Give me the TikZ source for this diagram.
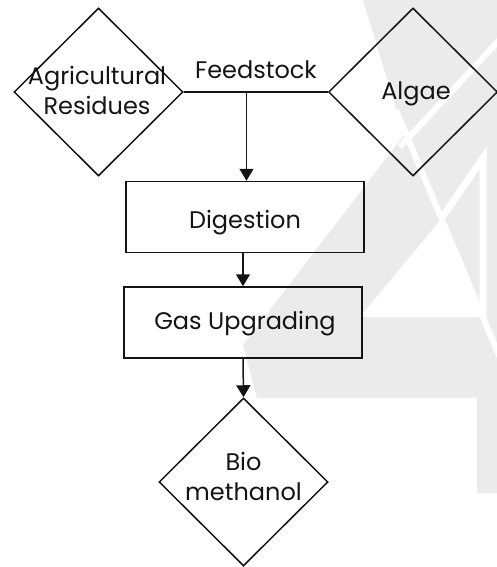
\documentclass[tikz,border=0pt]{standalone}
\usepackage{fontspec}
\setmainfont{Poppins}
\usetikzlibrary{shapes.geometric,arrows.meta}
\definecolor{wm}{RGB}{235,235,235}
\definecolor{ink}{RGB}{20,20,20}
\begin{document}
\begin{tikzpicture}[x=1pt,y=-1pt,
  diam/.style={draw=ink, diamond, line width=1.5pt, minimum width=169pt, minimum height=168pt, inner sep=0pt},
  procbox/.style={draw=ink, rectangle, line width=1.5pt, minimum width=238pt, minimum height=71pt, inner sep=0pt},
  txt/.style={font=\fontsize{24}{30}\selectfont, text=ink, align=center, inner sep=0pt},
  arr/.style={draw=ink, line width=1.5pt, -{Triangle[width=14pt,length=12pt]}},
  conn/.style={draw=ink, line width=1.5pt}
]
\useasboundingbox (0,0) rectangle (497,567);
% watermark
\fill[wm] (363,0) -- (497,0) -- (497,493) -- (477,493) -- (477,398) -- (257,398) -- (243,345) -- (404,135) -- cycle;
\fill[white] (443,217) -- (360,317) -- (481,317) -- cycle;
\draw[white, line width=6pt] (503,36) -- (400,147);
\draw[white, line width=6pt] (396,110) -- (505,370);
\draw[white, line width=7pt] (443,216) -- (483,158) -- (483,317);
% nodes
\node[diam] (agri) at (98.5,92) {};
\node[txt] (agrit) at (97,90) {Agricultural\\Residues};
\node[diam] (alg) at (413,92) {};
\node[txt] (algt) at (416,94) {Algae};
\node[txt, anchor=base] (feed) at (256,79) {Feedstock};
\node[procbox] (dig) at (245,217) {};
\node[txt] (digt) at (245,223) {Digestion};
\node[procbox] (gas) at (243,322.5) {};
\node[txt] (gast) at (245,323.5) {Gas Upgrading};
\node[diam] (bio) at (243.5,482) {};
\node[txt] (biot) at (243.5,476) {Bio\\methanol};
\coordinate (j) at (246.5,92);
% connectors
\draw[conn] (agri.east) -- (alg.west);
\draw[arr] (j) -- (j |- dig.north);
\draw[arr] (gas.north |- dig.south) -- (gas.north);
\draw[arr] (gas.south) -- (bio.north);
\end{tikzpicture}
\end{document}
